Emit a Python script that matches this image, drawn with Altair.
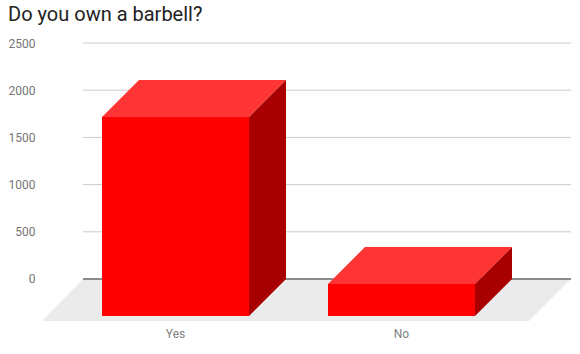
import altair as alt
import pandas as pd

# ---- data ----
categories = ["Yes", "No"]
counts = [2108, 339]
y_ticks = [0, 500, 1000, 1500, 2000, 2500]

# ---- layout constants (x in pixel-like units from plot left, y in data units) ----
BAR_LEFT0 = 60
STEP = 226
BAR_W = 147
DX = 37          # 3D depth, horizontal
DY = 392         # 3D depth, vertical (data units)
FLOOR_FRONT = (0, 487)
FLOOR_BACK = (41, 529)
FLOOR_DY = 445
X_DOMAIN = [0, 538]
Y_DOMAIN = [-794.5, 2584.75]

xs = alt.Scale(domain=X_DOMAIN, nice=False, zero=False)
ys = alt.Scale(domain=Y_DOMAIN, nice=False, zero=False)

front_rows, top_rows, side_rows, label_rows = [], [], [], []
for i, (c, v) in enumerate(zip(categories, counts)):
    L = BAR_LEFT0 + i * STEP
    R = L + BAR_W
    front_rows.append({"cat": c, "x": L, "x2": R, "y": -DY, "y2": v - DY})
    top_rows.append({"cat": c, "y": v - DY, "x": L, "x2": R})
    top_rows.append({"cat": c, "y": v, "x": L + DX, "x2": R + DX})
    side_rows.append({"cat": c, "x": R, "y": -DY, "y2": v - DY})
    side_rows.append({"cat": c, "x": R + DX, "y": 0, "y2": v})
    label_rows.append({"cat": c, "x": (L + R) / 2, "y": -FLOOR_DY})

front_df = pd.DataFrame(front_rows)
top_df = pd.DataFrame(top_rows)
side_df = pd.DataFrame(side_rows)
label_df = pd.DataFrame(label_rows)

floor_df = pd.DataFrame([
    {"y": -FLOOR_DY, "x": FLOOR_FRONT[0], "x2": FLOOR_FRONT[1]},
    {"y": 0, "x": FLOOR_BACK[0], "x2": FLOOR_BACK[1]},
])
grid_df = pd.DataFrame({"y": y_ticks, "x": FLOOR_BACK[0], "x2": FLOOR_BACK[1]})

X = lambda: alt.X("x:Q", scale=xs, axis=None)
Y = lambda: alt.Y("y:Q", scale=ys, title=None)

grid = alt.Chart(grid_df).transform_filter("datum.y > 0").mark_rule(
    color="#cccccc", strokeWidth=1
).encode(
    x=X(),
    x2="x2:Q",
    y=alt.Y("y:Q", scale=ys, title=None, axis=alt.Axis(
        values=y_ticks, format="d", grid=False, domain=False, ticks=False,
        labelPadding=7, labelColor="#757575", labelFont="Roboto",
        labelFontSize=12, title=None,
    )),
)

floor = alt.Chart(floor_df).mark_area(orient="horizontal", color="#ebebeb").encode(
    y=Y(), x=X(), x2="x2:Q",
)

baseline = alt.Chart(grid_df).transform_filter("datum.y == 0").mark_rule(
    color="#222222", strokeWidth=1
).encode(x=X(), x2="x2:Q", y=Y())

front = alt.Chart(front_df).mark_rect(color="#ff0000").encode(
    x=X(), x2="x2:Q", y=Y(), y2="y2:Q",
)

top = alt.Chart(top_df).mark_area(orient="horizontal", color="#ff3535").encode(
    y=Y(), x=X(), x2="x2:Q", detail="cat:N",
)

side = alt.Chart(side_df).mark_area(orient="vertical", color="#a80000").encode(
    x=X(), y=Y(), y2="y2:Q", detail="cat:N",
)

labels = alt.Chart(label_df).mark_text(
    baseline="top", dy=8, font="Roboto", fontSize=12, color="#808080"
).encode(x=X(), y=Y(), text="cat:N")

chart = alt.layer(grid, floor, baseline, front, top, side, labels).properties(
    width=538,
    height=319,
    padding={"left": 42, "top": 35, "right": 0, "bottom": 0},
    autosize="none",
    background="white",
    title=alt.TitleParams(
        "Do you own a barbell?", anchor="start", font="Roboto", fontSize=20,
        fontWeight="normal", color="#222222", offset=10,
    ),
).configure_view(stroke=None)

chart.save("out.html", embed_options={"renderer": "svg", "actions": False})
